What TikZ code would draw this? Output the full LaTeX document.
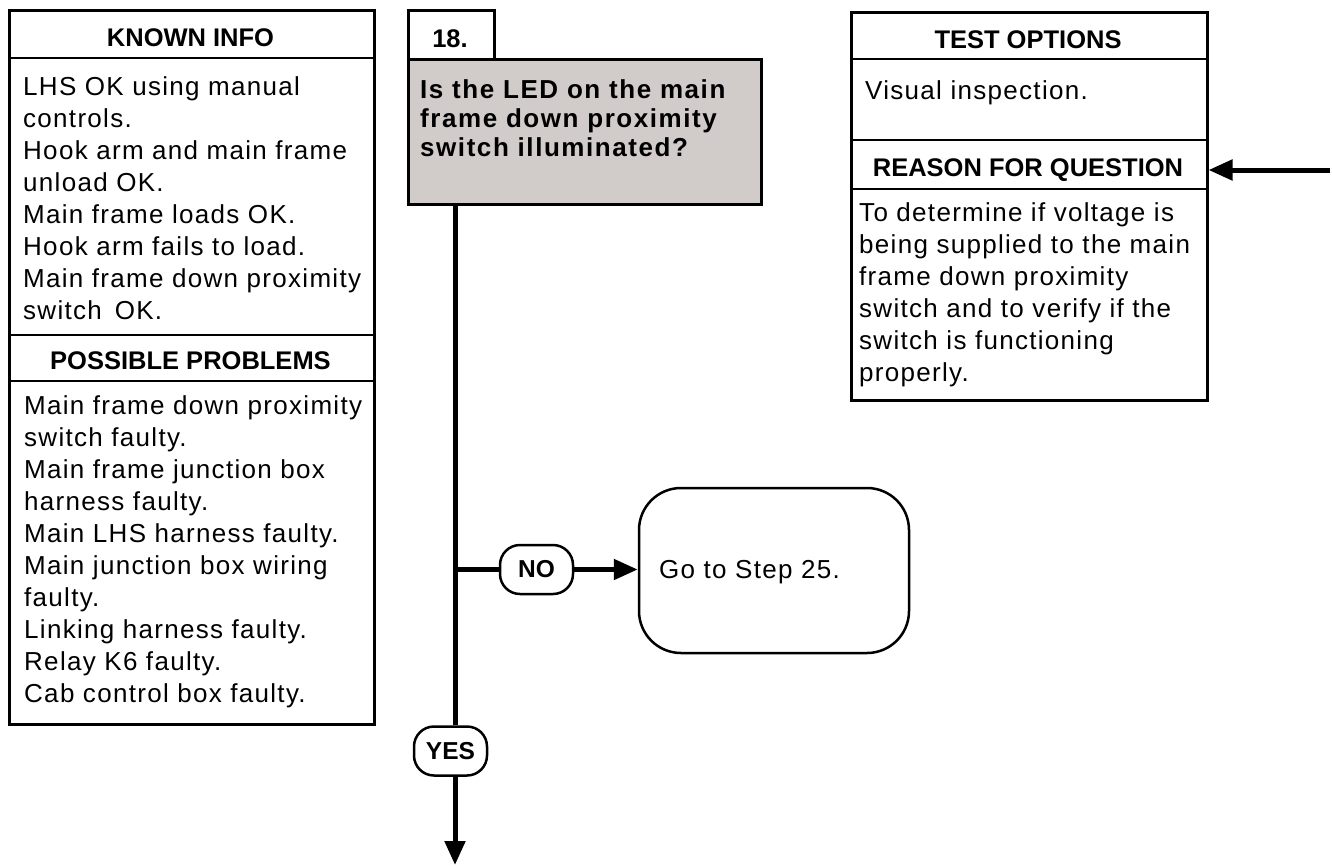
\documentclass[tikz,border=0pt]{standalone}
\usepackage{fontspec}
\setmainfont{Liberation Sans}
\newfontfamily\bodyf[LetterSpace=5]{Liberation Sans}
\newfontfamily\qfont[LetterSpace=6]{Liberation Sans}
\newfontfamily\headf{Liberation Sans}
\usetikzlibrary{arrows.meta}
\definecolor{qgray}{RGB}{209,203,202}
\tikzset{
  panel/.style={draw=black, line width=2.5pt, anchor=north west, inner sep=0pt, rectangle},
  divider/.style={line width=2.5pt},
  head/.style={font={\headf\bfseries\fontsize{25.5}{28}\selectfont}, anchor=base, inner sep=0pt},
  body/.style={font={\bodyf\fontsize{26}{32}\selectfont}, align=left, anchor=north west, inner sep=0pt},
  qtext/.style={font={\qfont\bfseries\fontsize{26}{29}\selectfont}, align=left, anchor=north west, inner sep=0pt},
  pill/.style={draw=black, line width=2.5pt, rounded corners=20pt, minimum width=73pt, minimum height=49pt, inner sep=0pt, font={\headf\bfseries\fontsize{24.5}{28}\selectfont}},
  endbox/.style={draw=black, line width=2.5pt, rounded corners=42pt, minimum width=270pt, minimum height=165pt, inner sep=0pt},
  flow/.style={line width=5pt},
  flowarrow/.style={line width=5pt, -{Triangle[length=24pt,width=20pt]}}
}
\begin{document}
\begin{tikzpicture}[x=1pt,y=-1pt]
\useasboundingbox (0,0) rectangle (1332,865);

% ---------- left panel ----------
\node[panel, minimum width=365pt, minimum height=714pt] (left) at (8,9) {};
\draw[divider] (8,58) -- (373,58);
\draw[divider] (8,335) -- (373,335);
\draw[divider] (8,381) -- (373,381);
\node[head] (kh) at (190.5,46) {KNOWN INFO};
\node[body] (kt) at (23,73) {\strut LHS OK using manual\\controls.\\Hook arm and main frame\\unload OK.\\Main frame loads OK.\\Hook arm fails to load.\\Main frame down proximity\\switch\, OK.};
\node[head] (ph) at (190.5,369) {POSSIBLE PROBLEMS};
\node[body] (pt) at (24,392) {\strut Main frame down proximity\\switch faulty.\\Main frame junction box\\harness faulty.\\Main LHS harness faulty.\\Main junction box wiring\\faulty.\\Linking harness faulty.\\Relay K6 faulty.\\Cab control box faulty.};

% ---------- step / question ----------
\node[panel, minimum width=86pt, minimum height=49pt] (step) at (407,9) {};
\node[head] (stept) at (450,47) {18.};
\node[panel, fill=qgray, minimum width=353pt, minimum height=145pt] (q) at (407,58) {};
\node[qtext] (qt) at (420,78) {\strut Is the LED on the main\\frame down proximity\\switch illuminated?};

% ---------- right panel ----------
\node[panel, minimum width=356pt, minimum height=388pt] (right) at (850,11) {};
\draw[divider] (850,59) -- (1206,59);
\draw[divider] (850,140) -- (1206,140);
\draw[divider] (850,189) -- (1206,189);
\node[head] (th) at (1028,48) {TEST OPTIONS};
\node[body] (tt) at (865,77) {\strut Visual inspection.};
\node[head] (rh) at (1028,176) {REASON FOR QUESTION};
\node[body] (rt) at (859,199) {\strut To determine if voltage is\\being supplied to the main\\frame down proximity\\switch and to verify if the\\switch is functioning\\properly.};

\coordinate (src) at (1330,170);
\draw[flowarrow] (src) -- (src -| right.east);

% ---------- flow ----------
\node[pill] (no) at (536.5,569.5) {NO};
\node[pill] (yes) at (450.5,751) {YES};
\node[endbox] (go) at (774,570.5) {};
\node[font={\bodyf\fontsize{26}{30}\selectfont}, anchor=base west, inner sep=0pt] (got) at (659,578.5) {Go to Step 25.};

\coordinate (top) at (455,203);
\coordinate (j) at (455,569.5);
\coordinate (bot) at (455,865);
\draw[flow] (top) -- (top |- yes.north);
\draw[flowarrow] (top |- yes.south) -- (bot);
\draw[flow] (j) -- (j -| no.west);
\draw[flowarrow] (no.east) -- (no.east -| go.west);
\end{tikzpicture}
\end{document}
